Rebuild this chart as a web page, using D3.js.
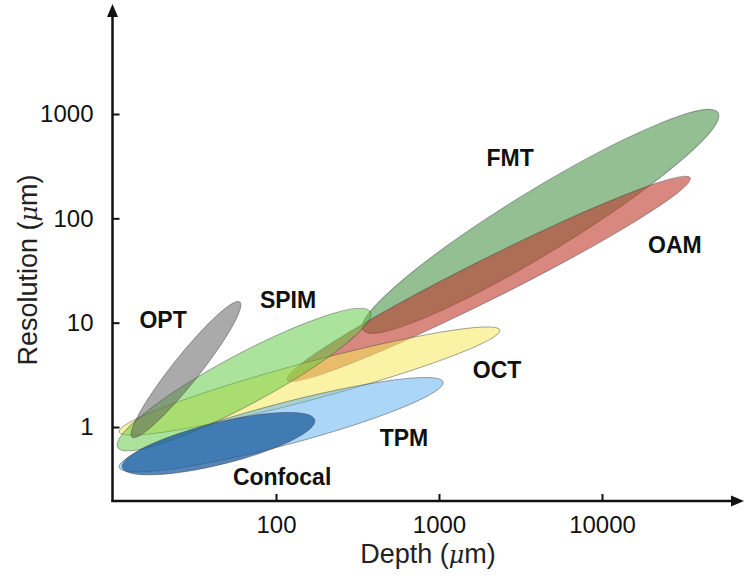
<!DOCTYPE html>
<html>
<head>
<meta charset="utf-8">
<script src="https://cdn.jsdelivr.net/npm/d3@7"></script>
<style>
  html, body { margin: 0; padding: 0; background: #fff; }
  svg { display: block; }
</style>
</head>
<body>
<svg id="chart" width="744" height="581"></svg>
<script>
// ---- data (depth in µm, resolution in µm, log-space ellipse spans) ----
const techniques = ["FMT", "OAM", "OCT", "TPM", "SPIM", "Confocal", "OPT"];
const depthMin   = [342,   117,   10.9,  10.9,  10.7,   11.4,      13.1];
const depthMax   = [51500, 34700, 2365,  1060,  378,    173,       60];
const resMin     = [8.5,   2.82,  0.895, 0.41,  0.64,   0.41,      0.80];
const resMax     = [1028,  244,   8.5,   2.7,   12.7,   1.17,      15.8];
// half-width of each ellipse, in decades of resolution
const spread     = [0.30,  0.19,  0.18,  0.2,   0.24,   0.2,       0.13];
const colors     = ["#3a8a3a", "#c0392b", "#f5e85a", "#5aaef0", "#58c83a", "#1f5f9f", "#555555"];
const opacities  = [0.55, 0.6, 0.55, 0.5, 0.5, 0.76, 0.5];

// label anchor positions in data space
const labelDepth = [2730, 28000, 2270, 610, 118.5, 109, 20.3];
const labelRes   = [380,  55.7,  3.52, 0.784, 16.5, 0.331, 10.6];

const xTicks = [100, 1000, 10000];
const yTicks = [1, 10, 100, 1000];
const xTitle = "Depth (";
const yTitle = "Resolution (";

// ---- scales ----
const svg = d3.select("#chart");
const x = d3.scaleLog().domain([10, 100000]).range([113, 765]);
const y = d3.scaleLog().domain([1, 1000]).range([427, 114]);
const axisX0 = 112.5, axisY0 = 501;
const decadePx = Math.abs(y(10) - y(1));

// ---- ellipses ----
const gE = svg.append("g");
techniques.forEach((t, i) => {
  const x1 = x(depthMin[i]), y1 = y(resMin[i]);
  const x2 = x(depthMax[i]), y2 = y(resMax[i]);
  const cx = (x1 + x2) / 2, cy = (y1 + y2) / 2;
  const rx = Math.hypot(x2 - x1, y2 - y1) / 2;
  const ry = spread[i] * decadePx;
  const ang = Math.atan2(y2 - y1, x2 - x1) * 180 / Math.PI;
  gE.append("ellipse")
    .attr("cx", 0).attr("cy", 0).attr("rx", rx).attr("ry", ry)
    .attr("transform", `translate(${cx},${cy}) rotate(${ang})`)
    .attr("fill", colors[i]).attr("fill-opacity", opacities[i])
    .attr("stroke", "#444").attr("stroke-opacity", 0.5).attr("stroke-width", 0.9);
});

// ---- labels ----
svg.append("g").selectAll("text").data(techniques).join("text")
  .attr("x", (d, i) => x(labelDepth[i]))
  .attr("y", (d, i) => y(labelRes[i]))
  .attr("text-anchor", "middle")
  .attr("dominant-baseline", "central")
  .attr("font-family", "'Liberation Sans', Arial, sans-serif")
  .attr("font-weight", "bold")
  .attr("font-size", 23)
  .attr("fill", "#111")
  .text(d => d);

// ---- axes ----
const xAxis = d3.axisBottom(x).tickValues(xTicks).tickFormat(d3.format("d"))
  .tickSizeInner(-7).tickSizeOuter(0).tickPadding(15);
const yAxis = d3.axisLeft(y).tickValues(yTicks).tickFormat(d3.format("d"))
  .tickSizeInner(-7).tickSizeOuter(0).tickPadding(19);

const gx = svg.append("g").attr("transform", `translate(0,${axisY0})`).call(xAxis);
const gy = svg.append("g").attr("transform", `translate(${axisX0},0)`).call(yAxis);
[gx, gy].forEach(g => {
  g.select(".domain").remove();
  g.selectAll(".tick line").attr("stroke", "#111").attr("stroke-width", 2);
  g.selectAll(".tick text")
    .attr("font-family", "'Liberation Sans', Arial, sans-serif")
    .attr("font-size", 24).attr("fill", "#111");
});
gx.selectAll(".tick text").attr("dy", "0.71em");

// axis lines with arrows
svg.append("line").attr("x1", axisX0).attr("x2", axisX0)
  .attr("y1", axisY0 + 1).attr("y2", 14)
  .attr("stroke", "#111").attr("stroke-width", 2.5);
svg.append("line").attr("x1", axisX0 - 1).attr("x2", 733)
  .attr("y1", axisY0).attr("y2", axisY0)
  .attr("stroke", "#111").attr("stroke-width", 2.5);
svg.append("path")
  .attr("d", `M${axisX0},4 L${axisX0 - 5.5},17 L${axisX0 + 5.5},17 Z`)
  .attr("fill", "#111");
svg.append("path")
  .attr("d", `M744,${axisY0} L731,${axisY0 - 5.5} L731,${axisY0 + 5.5} Z`)
  .attr("fill", "#111");

// axis titles
const xt = svg.append("text")
  .attr("x", 428).attr("y", 563)
  .attr("text-anchor", "middle")
  .attr("font-family", "'Liberation Sans', Arial, sans-serif")
  .attr("font-size", 27).attr("fill", "#222");
xt.append("tspan").text(xTitle);
xt.append("tspan").attr("font-style", "italic").attr("font-family", "'DejaVu Serif', serif").attr("font-size", 24).text("\u03bc");
xt.append("tspan").text("m)");

const yt = svg.append("text")
  .attr("transform", `translate(37,270) rotate(-90)`)
  .attr("text-anchor", "middle")
  .attr("font-family", "'Liberation Sans', Arial, sans-serif")
  .attr("font-size", 27).attr("fill", "#222");
yt.append("tspan").text(yTitle);
yt.append("tspan").attr("font-style", "italic").attr("font-family", "'DejaVu Serif', serif").attr("font-size", 24).text("\u03bc");
yt.append("tspan").text("m)");
</script>
</body>
</html>
